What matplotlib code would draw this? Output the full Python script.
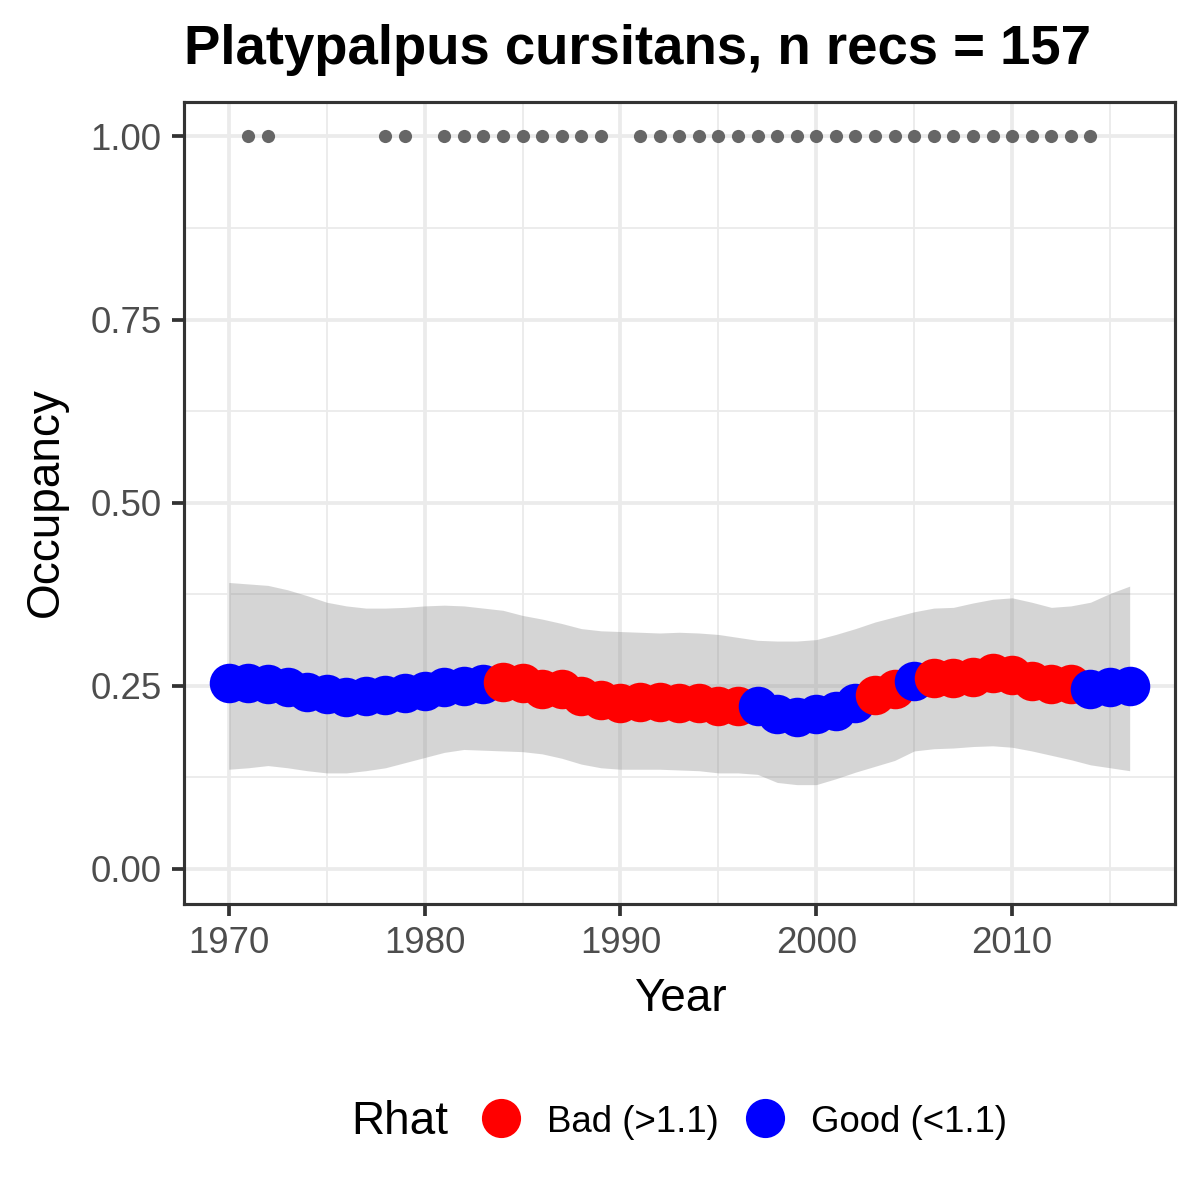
import numpy as np
import matplotlib
matplotlib.use("Agg")
import matplotlib.pyplot as plt
from matplotlib.lines import Line2D

plt.rcParams['font.family'] = ['Liberation Sans', 'DejaVu Sans']

# -----------------------
# data
# -----------------------
years = list(range(1970, 2017))

occ_mean = [0.254, 0.254, 0.253, 0.248, 0.242, 0.239, 0.235, 0.236, 0.238, 0.240,
            0.243, 0.248, 0.250, 0.252, 0.255, 0.254, 0.246, 0.245, 0.236, 0.230,
            0.227, 0.228, 0.228, 0.227, 0.226, 0.223, 0.222, 0.222, 0.211, 0.208,
            0.211, 0.215, 0.227, 0.238, 0.245, 0.256, 0.260, 0.261, 0.262, 0.268,
            0.265, 0.257, 0.252, 0.252, 0.245, 0.248, 0.249]

occ_upper = [0.391, 0.389, 0.387, 0.381, 0.373, 0.364, 0.359, 0.356, 0.356, 0.357,
             0.359, 0.360, 0.359, 0.356, 0.353, 0.346, 0.341, 0.335, 0.328, 0.325,
             0.324, 0.323, 0.322, 0.323, 0.322, 0.320, 0.316, 0.312, 0.311, 0.311,
             0.313, 0.320, 0.328, 0.337, 0.344, 0.351, 0.356, 0.357, 0.363, 0.368,
             0.370, 0.364, 0.357, 0.359, 0.364, 0.376, 0.386]

occ_lower = [0.136, 0.138, 0.141, 0.138, 0.134, 0.131, 0.131, 0.134, 0.138, 0.145,
             0.152, 0.159, 0.163, 0.162, 0.161, 0.160, 0.157, 0.151, 0.143, 0.138,
             0.136, 0.136, 0.136, 0.135, 0.134, 0.131, 0.131, 0.129, 0.118, 0.115,
             0.115, 0.123, 0.132, 0.140, 0.148, 0.161, 0.164, 0.165, 0.167, 0.168,
             0.166, 0.161, 0.155, 0.149, 0.142, 0.138, 0.134]

# "B" = Bad (>1.1), "G" = Good (<1.1)
rhat = (["G"] * 14 + ["B"] * 13 + ["G"] * 6 + ["B"] * 2 + ["G"] * 1
        + ["B"] * 8 + ["G"] * 3)

rec_years = [1971, 1972, 1978, 1979] + list(range(1981, 1990)) + list(range(1991, 2015))

title = "Platypalpus cursitans, n recs = 157"
rhat_colors = {"B": "#FF0000", "G": "#0000FF"}
rhat_labels = {"B": "Bad (>1.1)", "G": "Good (<1.1)"}

# -----------------------
# figure
# -----------------------
W = H = 1200.0
fig = plt.figure(figsize=(4, 4), dpi=300)
ax = fig.add_axes([183.7 / W, 1 - 904 / H, (1174.7 - 183.7) / W, (904 - 102) / H])

ax.fill_between(years, occ_lower, occ_upper, color="#7f7f7f", alpha=0.32,
                linewidth=0, zorder=2)

# points in data order, so later years sit on top
for yr, m, r in zip(years, occ_mean, rhat):
    ax.scatter(yr, m, s=90, color=rhat_colors[r], linewidths=0, zorder=3)

ax.scatter(rec_years, [1.0] * len(rec_years), s=10, color="#666666",
           linewidths=0, zorder=3)

ax.set_xlim(1967.7, 2018.3)
ax.set_ylim(-0.048, 1.047)
ax.set_xticks([1970, 1980, 1990, 2000, 2010])
ax.set_xticks([1975, 1985, 1995, 2005, 2015], minor=True)
ax.set_yticks([0, 0.25, 0.5, 0.75, 1.0])
ax.set_yticklabels(["0.00", "0.25", "0.50", "0.75", "1.00"])
ax.set_yticks([0.125, 0.375, 0.625, 0.875], minor=True)

ax.grid(which="major", color="#EBEBEB", linewidth=0.9, zorder=0)
ax.grid(which="minor", color="#EBEBEB", linewidth=0.45, zorder=0)
ax.set_axisbelow(True)

for sp in ax.spines.values():
    sp.set_color("#333333")
    sp.set_linewidth(0.75)

ax.tick_params(which="major", length=2.9, width=0.9, color="#333333",
               labelsize=8.8, labelcolor="#4D4D4D", pad=2.4)
ax.tick_params(which="minor", length=0)

# -----------------------
# titles
# -----------------------
fig.text(638 / W, 1 - 64 / H, title, ha="center", va="baseline",
         fontsize=13.1, fontweight="bold")
fig.text(680 / W, 1 - 1011 / H, "Year", ha="center", va="baseline", fontsize=11)
fig.text(58 / W, 1 - 502 / H, "Occupancy", ha="center", va="baseline",
         rotation=90, rotation_mode="anchor", fontsize=11)

# -----------------------
# legend (title on the left, like ggplot bottom legend)
# -----------------------
fig.text(351 / W, 1 - 1134 / H, "Rhat", ha="left", va="baseline", fontsize=11)
for key, cx, tx in [("B", 501, 547), ("G", 765, 811)]:
    fig.add_artist(Line2D([cx / W], [1 - 1117.5 / H], marker="o", markersize=9.4,
                          color=rhat_colors[key], linestyle="none",
                          markeredgewidth=0, transform=fig.transFigure))
    fig.text(tx / W, 1 - 1132 / H, rhat_labels[key], ha="left", va="baseline",
             fontsize=8.8)

fig.savefig("out.png", dpi=300, facecolor="white")
